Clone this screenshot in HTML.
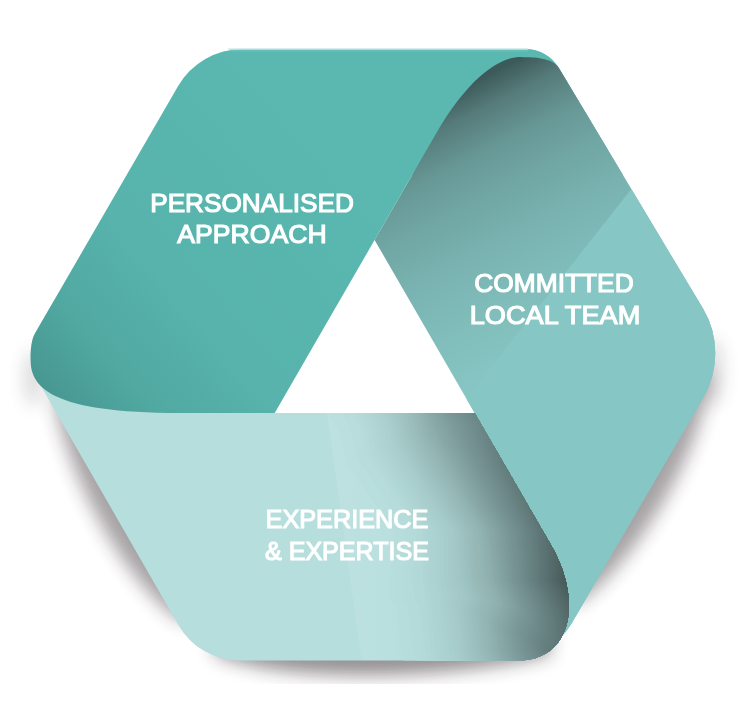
<!DOCTYPE html>
<html><head><meta charset="utf-8">
<style>
html,body{margin:0;padding:0;background:#fff;}
svg{display:block;}
text{font-family:"Liberation Sans",sans-serif;font-weight:normal;fill:#fff;stroke:#fff;stroke-width:1.2px;}
</style></head><body>
<svg width="742" height="708" viewBox="0 0 742 708">
<defs>
<filter id="blur" x="-20%" y="-20%" width="140%" height="140%"><feGaussianBlur stdDeviation="9"/></filter>
<linearGradient id="gA" gradientUnits="userSpaceOnUse" x1="330" y1="150" x2="40" y2="400">
<stop offset="0" stop-color="#5ab8b0"/><stop offset="0.55" stop-color="#57b3ac"/><stop offset="0.8" stop-color="#50a8a1"/><stop offset="1" stop-color="#46958f"/></linearGradient>
<linearGradient id="gB" gradientUnits="userSpaceOnUse" x1="523" y1="57" x2="644.5" y2="297.3">
<stop offset="0" stop-color="#3d5a5a"/><stop offset="0.1" stop-color="#557a79"/><stop offset="0.25" stop-color="#679896"/><stop offset="0.4" stop-color="#70a6a4"/><stop offset="0.6" stop-color="#7ab4b2"/><stop offset="0.8" stop-color="#80bdbb"/><stop offset="1" stop-color="#86c5c3"/></linearGradient>
<linearGradient id="gC"><stop offset="0" stop-color="#b6dedd"/></linearGradient>
<linearGradient id="gCs" gradientUnits="userSpaceOnUse" x1="330" y1="0" x2="430" y2="0"><stop offset="0" stop-color="#fff" stop-opacity="0.1"/><stop offset="1" stop-color="#fff" stop-opacity="0"/></linearGradient>
<clipPath id="cclip"><path d="M274.71,413.00 L474.68,413.00 L551.04,545.00 C583.75,601.54 571.39,660.50 518.00,660.50 L239.36,660.50 A70.00,70.00 0 0 1 178.70,625.42 L37.13,379.53 A50.00,50.00 0 0 1 37.19,329.54 L54.28,300.00 L200,413.00 Z"/></clipPath>
<clipPath id="topclip"><rect x="0" y="0" width="742" height="175"/></clipPath>
<clipPath id="bclip"><path d="M435.23,135.00 C485.67,47.64 523.50,57.30 524.00,57.30 C531.96,57.30 552.52,57.44 558.85,68.00 L702.75,308.12 A88.00,88.00 0 0 1 703.29,397.69 L571.72,623.28 A75.00,75.00 0 0 1 506.93,660.50 L500,640 L474.68,413.00 L374.60,240.00 Z"/></clipPath>
</defs>
<g filter="url(#blur)" opacity="0.42">
<path d="M54.12,397.01 C64.11,466.48 122.23,583.47 184.23,623.01 L205.03,611.04 L74.92,385.04 Z M709.59,374.98 C703.69,448.60 636.63,563.60 575.45,604.98 L554.72,592.88 L688.86,362.88 Z" fill="#2a2428"/>
</g>
<g filter="url(#blur)" opacity="0.5">
<path d="M215.00,654.50 C298.75,686.50 466.25,676.50 550.00,654.50 L550.00,630.50 L215.00,630.50 Z" fill="#2a2428"/>
</g>
<g filter="url(#blur)" opacity="0.18" fill="#2a2428">
<ellipse cx="34" cy="378" rx="9" ry="28"/>
<ellipse cx="712" cy="372" rx="10" ry="34"/>
</g>
<path d="M374.60,240.00 L274.71,413.00 L474.68,413.00 Z" fill="#fff"/>
<path d="M435.23,135.00 C485.67,47.64 523.50,57.30 524.00,57.30 C531.96,57.30 552.52,57.44 558.85,68.00 L702.75,308.12 A88.00,88.00 0 0 1 703.29,397.69 L571.72,623.28 A75.00,75.00 0 0 1 506.93,660.50 L500,640 L474.68,413.00 L374.60,240.00 Z" fill="url(#gB)"/>
<path d="M629.6,191.2 L400,483 L400,700 L760,700 L760,100 Z" fill="#86c6c4" clip-path="url(#bclip)"/>
<path d="M274.71,413.00 L474.68,413.00 L551.04,545.00 C583.75,601.54 571.39,660.50 518.00,660.50 L239.36,660.50 A70.00,70.00 0 0 1 178.70,625.42 L37.13,379.53 A50.00,50.00 0 0 1 37.19,329.54 L54.28,300.00 L200,413.00 Z" fill="url(#gC)"/>
<g clip-path="url(#cclip)" fill="#0a1414" fill-rule="evenodd"><path d="M619.8,680.2 L450.8,680.2 L407.5,679.8 L405.7,670.2 L400.8,650.8 L396.8,607.8 L389.9,600.2 L389.5,586.8 L389.8,577.8 L393.7,530.2 L348.3,465.8 L338.1,430.2 L329.0,413.2 L327.4,405.2 L375.2,404.8 L619.8,404.8 L620.2,405.2 L620.2,580.2 L620.2,679.8 L619.8,680.2Z" fill="#b4dcdb"/><path d="M619.8,680.2 L421.1,679.8 L419.3,670.2 L413.3,650.8 L407.7,605.8 L402.9,600.2 L402.2,595.8 L400.8,579.8 L405.3,530.2 L358.6,460.8 L351.0,430.2 L342.6,413.2 L341.0,405.2 L396.2,404.8 L619.8,404.8 L620.2,405.2 L620.2,580.2 L620.2,679.8 L619.8,680.2Z" fill="#b3dad9"/><path d="M619.8,680.2 L432.7,679.8 L430.8,670.2 L425.9,651.2 L418.5,603.2 L415.6,600.2 L412.3,581.8 L412.4,575.2 L416.8,530.2 L390.8,489.8 L368.1,456.2 L361.2,430.2 L353.1,413.2 L351.6,405.2 L469.8,404.8 L619.8,404.8 L620.2,405.2 L620.2,679.8 L619.8,680.2Z" fill="#b1d8d7"/><path d="M619.8,680.2 L437.7,679.8 L435.8,670.2 L430.4,650.8 L427.0,601.8 L425.9,599.8 L423.1,580.8 L422.5,530.2 L372.0,454.2 L366.0,430.2 L358.2,413.2 L356.6,405.2 L469.8,404.8 L619.8,404.8 L620.2,405.2 L620.2,679.8 L619.8,680.2Z" fill="#afd6d5"/><path d="M619.8,680.2 L442.8,679.8 L440.9,670.2 L435.1,650.8 L431.0,600.8 L428.9,590.2 L427.2,578.8 L426.9,530.2 L398.7,487.8 L375.9,452.2 L370.8,430.2 L363.3,413.2 L361.7,405.2 L469.8,404.8 L619.8,404.8 L620.2,405.2 L620.2,679.8 L619.8,680.2Z" fill="#add4d3"/><path d="M619.8,680.2 L447.8,679.8 L445.9,670.2 L439.7,650.8 L435.1,600.2 L435.5,599.2 L431.5,581.2 L431.1,530.2 L379.8,450.2 L375.6,430.2 L368.3,413.2 L366.8,405.2 L469.8,404.8 L619.8,404.8 L620.2,405.2 L620.2,679.8 L619.8,680.2Z" fill="#acd2d1"/><path d="M619.8,680.2 L452.9,679.8 L451.0,670.2 L444.4,650.8 L439.2,600.2 L440.1,598.2 L435.5,579.2 L435.5,530.2 L384.9,450.2 L383.8,447.8 L380.4,430.2 L373.4,413.2 L371.8,405.2 L469.8,404.8 L619.8,404.8 L620.2,405.2 L620.2,679.8 L619.8,680.2Z" fill="#aad0cf"/><path d="M619.8,680.2 L457.9,679.8 L456.0,670.2 L449.0,650.8 L443.3,600.2 L444.4,597.2 L439.7,580.2 L439.9,530.2 L389.5,449.2 L387.9,445.8 L385.2,430.2 L383.6,425.2 L378.5,413.2 L376.9,405.2 L469.8,404.8 L619.8,404.8 L620.2,405.2 L620.2,679.8 L619.8,680.2Z" fill="#a8cecd"/><path d="M619.8,680.2 L463.0,679.8 L461.1,670.2 L453.7,650.8 L447.3,600.2 L449.2,597.2 L444.1,580.2 L444.1,530.2 L420.7,492.2 L393.7,447.2 L392.1,443.8 L389.8,430.2 L383.2,413.2 L381.6,405.2 L469.8,404.9 L619.8,404.9 L620.1,405.2 L620.2,679.8 L619.8,680.2Z" fill="#a7cccb"/><path d="M619.8,680.1 L466.5,679.8 L464.6,670.2 L458.3,650.8 L451.5,600.8 L453.6,598.2 L453.8,597.2 L448.2,580.2 L448.5,530.2 L423.2,488.2 L396.8,445.8 L395.1,442.2 L392.8,430.2 L386.3,413.2 L384.8,405.2 L469.8,404.9 L619.8,404.9 L620.1,405.2 L620.1,679.8 L619.8,680.1Z" fill="#a5cac9"/><path d="M619.8,680.1 L469.7,679.8 L467.8,670.2 L461.2,650.8 L459.2,626.6 L455.9,602.8 L456.7,600.2 L458.7,597.8 L452.4,580.2 L452.8,539.8 L452.3,530.2 L430.3,495.2 L399.3,444.2 L397.8,441.2 L395.8,430.2 L394.3,425.2 L389.5,413.2 L388.0,405.2 L469.8,404.9 L619.8,404.9 L620.1,405.2 L620.1,679.8 L619.8,680.1Z" fill="#a3c8c7"/><path d="M619.8,680.1 L472.8,679.8 L471.0,670.2 L464.1,650.2 L460.3,605.2 L461.9,600.2 L463.4,598.2 L456.5,579.8 L456.8,557.8 L454.9,530.2 L425.3,482.2 L401.9,442.8 L400.4,439.8 L398.8,430.2 L397.4,425.2 L392.7,413.2 L391.1,405.2 L469.8,404.9 L619.8,404.9 L620.1,405.2 L620.1,679.8 L619.8,680.1Z" fill="#a1c6c5"/><path d="M619.8,680.1 L476.0,679.8 L474.1,670.2 L467.0,650.2 L463.1,606.8 L465.6,600.2 L467.1,598.8 L463.3,586.8 L460.9,580.8 L457.7,530.2 L424.2,475.2 L404.7,441.8 L403.1,438.2 L401.8,430.2 L400.5,425.2 L395.9,413.2 L394.3,405.2 L469.8,404.9 L619.8,404.9 L620.1,405.2 L620.1,679.8 L619.8,680.1Z" fill="#a0c4c3"/><path d="M619.8,680.1 L479.2,679.8 L477.3,670.2 L469.9,650.2 L465.8,607.8 L468.8,600.2 L469.9,598.8 L463.7,580.2 L460.3,530.2 L426.4,473.8 L407.2,440.2 L405.9,437.2 L404.9,430.2 L403.6,425.2 L399.1,413.2 L397.5,405.2 L469.8,404.9 L619.8,404.9 L620.1,405.2 L620.1,679.8 L619.8,680.1Z" fill="#9ec2c1"/><path d="M619.8,680.1 L482.3,679.8 L480.5,670.2 L472.8,650.2 L468.5,609.2 L472.0,600.2 L472.9,599.2 L466.1,579.2 L463.0,530.2 L428.9,472.8 L416.5,451.2 L409.9,438.8 L408.6,435.8 L406.6,425.2 L402.3,413.2 L400.7,405.2 L469.8,404.9 L619.8,404.9 L620.1,405.2 L620.1,679.8 L619.8,680.1Z" fill="#9cc0bf"/><path d="M619.8,680.1 L485.5,679.8 L483.6,670.2 L475.8,650.2 L471.3,610.8 L476.0,599.2 L469.0,580.2 L465.8,530.2 L431.5,471.8 L419.2,450.2 L412.8,437.8 L411.4,434.2 L409.7,425.2 L405.4,413.2 L403.9,405.2 L469.8,404.9 L619.8,404.9 L620.1,405.2 L620.1,679.8 L619.8,680.1Z" fill="#9abebd"/><path d="M619.8,680.1 L488.7,679.8 L486.8,670.2 L478.7,650.2 L474.1,612.2 L478.8,599.2 L471.5,580.2 L468.5,530.2 L433.7,470.2 L421.8,448.8 L415.5,436.2 L414.2,432.8 L412.6,425.2 L408.4,413.2 L406.8,405.2 L469.8,404.9 L619.8,404.9 L620.1,405.2 L620.1,679.8 L619.8,680.1Z" fill="#99bcbb"/><path d="M619.8,680.1 L491.4,679.8 L489.5,670.2 L481.6,650.2 L476.9,613.2 L481.7,599.8 L477.6,588.2 L475.1,582.8 L474.0,578.8 L471.3,530.2 L443.0,481.2 L417.8,435.2 L416.2,431.8 L414.8,425.2 L410.7,413.2 L409.1,405.2 L620.0,405.2 L620.1,679.8 L619.8,680.1Z" fill="#97bab9"/><path d="M619.8,680.0 L494.0,679.8 L491.8,670.2 L484.6,650.8 L480.7,622.8 L479.7,614.8 L484.7,600.2 L483.3,595.8 L476.8,580.2 L474.5,544.2 L474.0,530.2 L429.5,452.8 L419.8,434.2 L418.3,430.8 L417.1,425.2 L413.0,413.2 L411.4,405.2 L620.0,405.2 L619.8,680.0Z" fill="#95b8b7"/><path d="M619.8,680.0 L496.7,679.8 L495.7,678.2 L494.1,670.2 L486.6,650.2 L485.7,637.8 L482.6,616.2 L487.8,601.2 L485.7,594.8 L479.4,580.2 L476.7,530.2 L440.1,467.2 L424.8,439.2 L420.3,429.8 L419.3,425.2 L415.3,413.2 L413.7,405.2 L620.0,405.2 L619.8,680.0Z" fill="#94b6b5"/><path d="M619.8,680.0 L499.6,679.8 L498.9,678.8 L497.9,677.2 L496.5,670.2 L488.7,650.2 L486.8,627.1 L485.4,617.8 L491.0,601.2 L489.8,599.4 L488.3,594.2 L486.6,591.2 L481.9,579.2 L479.8,538.8 L478.7,530.2 L441.8,466.2 L426.8,438.2 L422.3,428.8 L421.6,425.2 L417.6,413.2 L416.1,405.2 L620.0,405.2 L619.8,680.0Z" fill="#92b4b3"/><path d="M619.8,680.0 L502.5,679.8 L501.0,677.8 L500.0,676.2 L498.8,670.2 L490.9,650.2 L488.1,618.8 L494.1,601.8 L492.1,598.2 L490.2,592.2 L489.0,590.2 L484.8,580.2 L483.1,550.2 L480.8,530.2 L462.7,499.2 L435.0,449.8 L424.3,427.8 L419.9,413.2 L418.4,405.2 L620.0,405.2 L619.8,680.0Z" fill="#90b2b1"/><path d="M619.8,680.0 L505.4,679.8 L503.1,676.8 L502.0,674.8 L501.1,670.2 L493.0,650.2 L490.1,619.8 L497.1,602.2 L494.5,597.2 L492.5,591.2 L487.3,580.2 L486.2,558.8 L482.7,530.2 L464.3,498.2 L436.9,448.8 L426.3,426.8 L422.3,413.2 L420.7,405.2 L620.0,405.2 L619.8,680.0Z" fill="#8eb0af"/><path d="M619.8,680.0 L508.3,679.8 L505.3,675.8 L504.1,673.8 L503.4,670.2 L495.1,650.2 L492.2,620.8 L499.5,602.2 L498.1,600.2 L494.9,590.8 L489.9,580.2 L489.4,569.2 L484.6,530.2 L457.3,481.8 L438.8,447.8 L428.4,425.8 L424.6,413.2 L423.0,405.2 L620.0,405.2 L619.8,680.0Z" fill="#8daead"/><path d="M619.8,680.0 L511.2,679.8 L507.4,674.8 L506.2,672.9 L505.7,670.2 L497.2,650.2 L494.2,622.2 L501.6,602.8 L500.0,600.2 L496.4,589.2 L492.6,580.2 L486.7,530.2 L467.7,496.8 L440.8,446.8 L434.1,431.8 L430.4,424.8 L426.9,413.2 L425.3,405.2 L620.0,405.2 L619.8,680.0Z" fill="#8bacab"/><path d="M619.8,680.0 L514.0,679.8 L509.5,673.8 L508.3,671.8 L508.0,670.2 L499.3,650.2 L496.3,623.2 L503.7,603.8 L501.7,599.2 L498.0,588.2 L494.5,580.8 L488.7,530.2 L469.3,495.8 L442.8,445.8 L436.2,430.8 L432.4,423.8 L429.2,413.2 L427.6,405.2 L620.0,405.2 L619.8,680.0Z" fill="#89a9a9"/><path d="M619.8,680.0 L516.9,679.8 L511.7,672.8 L510.4,670.8 L501.5,650.2 L498.4,624.2 L505.8,604.8 L499.9,588.2 L496.1,580.2 L496.3,578.2 L490.6,530.2 L465.8,485.2 L447.8,451.2 L438.3,429.8 L434.3,422.8 L431.5,413.2 L429.9,405.2 L619.9,405.2 L619.8,680.0Z" fill="#88a7a7"/><path d="M619.8,679.9 L519.8,679.8 L512.4,669.8 L503.6,650.2 L500.5,625.2 L508.0,605.8 L502.6,590.2 L497.9,579.8 L498.0,577.2 L492.6,530.2 L472.8,494.2 L449.7,450.2 L440.3,428.8 L436.3,421.8 L433.8,413.2 L432.3,405.2 L619.9,405.2 L619.8,679.9Z" fill="#86a5a5"/><path d="M619.8,679.9 L522.7,679.8 L514.2,668.8 L505.7,650.2 L502.6,626.2 L508.9,608.8 L509.9,607.2 L510.0,605.8 L506.4,595.2 L503.1,586.8 L501.4,583.8 L499.7,578.8 L499.8,576.2 L494.5,530.2 L474.4,493.2 L451.6,449.2 L442.7,428.2 L438.3,420.8 L436.1,413.2 L434.6,405.2 L619.9,405.2 L619.8,679.9Z" fill="#84a3a3"/><path d="M619.8,679.9 L525.6,679.8 L518.5,670.2 L516.0,667.8 L507.8,650.2 L504.7,627.2 L510.8,610.3 L511.8,608.9 L512.1,606.8 L507.8,593.8 L502.0,580.2 L496.6,530.2 L476.1,492.2 L454.7,450.8 L444.8,427.2 L440.3,419.8 L436.9,405.2 L619.9,405.2 L619.8,679.9Z" fill="#82a1a1"/><path d="M619.8,679.9 L528.5,679.8 L521.3,670.2 L518.1,667.2 L510.0,650.2 L506.9,628.2 L512.4,612.2 L513.8,610.2 L514.1,607.8 L510.9,596.8 L503.7,579.8 L503.1,571.2 L498.6,530.2 L481.1,497.8 L456.8,449.9 L447.0,426.2 L442.3,418.8 L439.2,405.2 L619.9,405.2 L619.8,679.9Z" fill="#819f9f"/><path d="M619.8,679.9 L531.4,679.8 L524.2,670.2 L519.8,666.2 L512.2,650.8 L509.1,629.8 L514.2,614.0 L515.9,611.2 L516.1,607.2 L511.3,592.8 L505.6,580.2 L505.3,573.8 L500.4,530.2 L482.7,496.8 L460.5,452.8 L449.2,425.2 L444.3,417.8 L441.5,405.2 L619.9,405.2 L619.8,679.9Z" fill="#7f9d9d"/><path d="M619.8,679.9 L534.3,679.8 L527.1,670.2 L521.5,665.2 L514.3,650.8 L511.3,630.8 L516.1,615.8 L517.8,613.2 L518.2,607.8 L514.1,595.2 L509.3,583.8 L507.4,580.8 L507.1,572.8 L502.2,529.8 L481.3,489.8 L462.4,451.8 L451.8,425.2 L446.4,416.8 L443.9,405.2 L619.9,405.2 L619.8,679.9Z" fill="#7d9b9b"/><path d="M619.8,679.9 L537.2,679.8 L530.1,670.2 L523.3,664.2 L516.5,650.8 L513.5,631.8 L517.8,617.8 L519.6,615.2 L520.3,608.2 L515.7,594.2 L510.4,582.2 L509.0,580.2 L508.9,571.8 L504.4,530.2 L489.3,501.2 L466.0,454.2 L454.7,425.8 L448.5,415.8 L446.2,405.2 L619.9,405.2 L619.8,679.9Z" fill="#7c9999"/><path d="M619.8,679.9 L540.1,679.8 L533.0,670.2 L525.0,663.2 L518.6,650.8 L515.7,632.8 L519.8,619.4 L521.8,616.2 L522.3,608.8 L517.4,593.8 L510.8,579.2 L510.8,571.8 L506.4,530.2 L487.9,494.2 L467.9,453.2 L457.2,425.4 L450.5,414.8 L448.6,405.2 L619.9,405.2 L619.8,679.9Z" fill="#7a9797"/><path d="M619.8,679.9 L543.1,679.8 L535.9,670.2 L526.8,662.2 L520.7,650.8 L517.9,633.8 L521.6,621.2 L523.8,617.8 L524.5,609.8 L518.9,592.8 L513.0,580.2 L512.2,566.8 L508.3,530.2 L486.6,487.2 L469.8,452.2 L460.3,426.2 L452.6,413.8 L450.9,405.2 L619.8,405.2 L619.8,679.9Z" fill="#789595"/><path d="M619.8,679.8 L546.1,679.8 L538.9,670.2 L528.7,661.8 L522.9,650.8 L520.2,635.2 L523.5,623.2 L526.0,618.8 L526.5,610.2 L522.3,596.8 L514.9,580.2 L514.4,569.2 L510.3,530.2 L488.3,486.2 L471.8,451.2 L462.6,425.2 L454.8,412.8 L453.3,405.2 L619.8,405.2 L619.8,679.8Z" fill="#769393"/><path d="M619.8,679.8 L549.0,679.8 L541.8,670.2 L530.4,660.8 L524.9,650.2 L522.4,636.2 L525.4,625.2 L528.0,620.8 L528.6,610.8 L524.0,596.2 L516.7,580.2 L516.2,568.2 L512.4,530.2 L493.2,491.8 L473.8,450.2 L465.2,425.2 L457.0,411.8 L455.6,405.2 L619.8,405.2 L619.8,679.8Z" fill="#759191"/><path d="M619.8,679.8 L552.0,679.8 L544.7,670.2 L532.1,659.8 L527.0,650.2 L524.7,637.2 L527.3,627.2 L530.2,621.8 L530.7,612.2 L530.3,609.8 L525.5,595.2 L521.8,586.8 L518.3,580.2 L518.0,567.2 L514.4,530.2 L494.9,490.8 L478.7,455.8 L475.9,449.2 L468.4,426.8 L466.8,423.2 L459.2,410.8 L458.0,405.2 L619.8,405.2 L619.8,679.8Z" fill="#738f8f"/><path d="M619.8,679.8 L554.9,679.8 L547.7,670.2 L533.8,658.8 L529.2,650.2 L527.1,638.2 L529.3,629.2 L531.4,625.8 L532.2,623.2 L532.8,613.2 L532.4,610.2 L527.6,595.8 L520.1,579.8 L519.9,567.2 L516.3,530.2 L496.7,489.8 L480.7,454.8 L478.0,448.2 L470.8,425.6 L462.9,412.8 L461.1,409.2 L460.3,405.2 L619.8,405.2 L619.8,679.8Z" fill="#718d8d"/><path d="M619.8,679.8 L557.8,679.8 L550.6,670.2 L537.5,659.8 L535.2,657.4 L531.4,650.2 L529.4,639.8 L531.4,631.2 L534.2,625.8 L534.8,621.8 L534.9,614.2 L534.3,610.2 L529.2,595.2 L522.0,580.2 L521.7,566.2 L518.2,530.2 L501.5,495.2 L482.6,453.8 L480.1,447.2 L473.3,425.2 L465.0,411.8 L463.3,408.2 L462.7,405.2 L619.8,405.2 L619.8,679.8Z" fill="#6f8b8b"/><path d="M619.8,679.8 L560.8,679.8 L553.5,670.2 L537.4,657.2 L534.2,651.7 L533.5,650.2 L531.8,640.8 L533.5,633.2 L536.5,627.2 L537.1,615.2 L536.2,610.2 L531.4,596.2 L528.0,588.2 L523.8,580.2 L523.5,565.2 L520.4,530.2 L503.2,494.2 L484.6,452.8 L481.0,442.2 L476.1,425.8 L466.9,410.2 L465.4,407.2 L465.0,405.2 L619.8,405.2 L619.8,679.8Z" fill="#6e8989"/><path d="M619.8,679.8 L563.7,679.8 L556.6,670.2 L539.2,656.5 L535.8,650.8 L534.1,641.8 L535.6,635.2 L537.1,632.8 L538.8,628.2 L539.3,622.8 L539.0,613.8 L538.1,610.2 L533.5,597.8 L533.1,595.8 L525.5,580.2 L525.3,563.8 L522.4,530.2 L502.2,487.2 L486.6,451.8 L478.5,424.8 L469.1,409.2 L467.4,405.2 L619.8,405.2 L619.8,679.8Z" fill="#6c8787"/><path d="M619.8,679.8 L566.6,679.8 L559.6,670.2 L541.0,655.8 L538.0,650.8 L536.4,643.2 L537.8,637.2 L539.3,634.8 L541.0,629.8 L541.5,622.8 L541.2,614.8 L540.1,610.2 L534.6,594.8 L530.9,586.8 L527.1,580.2 L527.6,573.8 L527.2,571.2 L527.2,562.8 L524.2,529.8 L504.0,486.2 L488.6,450.8 L483.4,433.2 L482.1,427.2 L481.5,426.2 L481.8,425.3 L619.8,425.3 L619.8,679.8Z" fill="#6a8585"/><path d="M619.8,679.8 L569.6,679.8 L562.4,670.2 L542.8,655.0 L540.2,650.8 L538.8,644.2 L539.9,639.8 L541.7,636.2 L543.4,630.8 L543.8,623.8 L543.3,614.8 L542.0,610.2 L536.2,594.2 L532.4,586.2 L528.9,580.2 L529.4,573.8 L529.0,570.2 L529.0,561.8 L526.4,530.2 L505.7,485.2 L493.4,456.2 L490.7,449.8 L486.2,433.6 L619.8,433.6 L619.8,679.8Z" fill="#698383"/><path d="M619.8,670.2 L565.8,670.2 L545.8,655.3 L544.1,653.8 L542.3,650.8 L541.2,645.2 L542.1,641.8 L544.7,636.2 L545.7,631.8 L546.0,624.8 L545.4,615.8 L544.0,610.2 L537.6,593.2 L533.7,585.2 L530.7,580.2 L531.3,572.8 L530.8,569.2 L531.0,561.8 L528.4,530.2 L518.9,509.8 L503.3,474.2 L493.7,451.2 L491.2,441.9 L619.8,441.9 L619.8,670.2Z" fill="#678181"/><path d="M619.8,665.2 L561.8,665.2 L547.8,654.7 L546.1,653.2 L544.5,650.8 L543.6,646.2 L544.2,643.8 L545.8,641.2 L547.1,637.8 L548.2,630.8 L547.7,617.2 L545.9,610.2 L539.2,592.8 L532.6,580.2 L533.1,570.8 L532.7,568.2 L532.8,560.8 L530.4,530.2 L512.2,489.8 L498.4,456.8 L496.2,450.3 L619.8,450.3 L619.8,665.2Z" fill="#657f7f"/><path d="M619.8,660.2 L557.8,660.2 L547.8,652.4 L546.6,650.8 L545.9,647.8 L546.4,645.8 L549.4,639.8 L550.4,634.2 L550.6,627.2 L549.9,618.2 L547.9,610.2 L542.3,595.8 L534.4,579.8 L535.0,569.8 L534.6,567.2 L534.7,559.8 L532.4,530.2 L516.7,495.2 L503.8,463.6 L619.8,463.6 L619.8,660.2Z" fill="#637d7d"/><path d="M619.8,655.2 L554.2,655.2 L548.8,650.8 L548.5,648.2 L549.8,646.4 L551.8,641.2 L552.8,635.2 L552.9,628.2 L552.3,620.2 L549.8,610.2 L544.1,595.8 L536.3,580.2 L536.2,576.2 L536.9,568.8 L536.3,560.2 L536.6,558.8 L534.3,530.2 L521.3,500.8 L513.2,481.7 L512.5,478.8 L511.6,477.8 L511.8,476.9 L619.8,476.9 L619.8,655.2Z" fill="#627b7b"/><path d="M619.8,650.2 L551.8,650.2 L551.5,649.8 L554.3,642.8 L555.1,637.8 L555.3,633.2 L554.9,624.2 L553.9,617.8 L551.8,610.2 L544.2,591.8 L538.0,580.2 L538.6,572.2 L538.6,561.8 L536.5,530.2 L523.0,499.8 L519.6,491.2 L519.8,490.3 L619.8,490.3 L619.8,650.2Z" fill="#607978"/><path d="M619.8,645.2 L556.8,645.2 L556.6,643.2 L557.6,639.2 L557.6,630.8 L556.7,621.8 L555.1,614.8 L553.7,610.2 L546.5,592.8 L539.6,580.2 L540.4,571.2 L540.5,560.8 L538.5,530.2 L530.3,511.8 L528.4,506.2 L527.5,505.2 L527.2,503.6 L619.8,503.6 L619.8,645.2Z" fill="#5e7776"/><path d="M619.8,640.2 L560.2,640.2 L559.6,627.2 L557.0,614.8 L555.6,610.2 L549.6,595.8 L541.4,579.8 L542.5,566.2 L542.1,563.8 L542.3,555.2 L540.6,534.2 L540.7,531.2 L534.8,516.9 L619.8,516.9 L619.8,640.2Z" fill="#5d7574"/><path d="M619.8,636.0 L562.8,636.0 L561.2,623.8 L557.6,610.2 L548.7,589.8 L543.4,580.2 L544.4,565.2 L544.0,562.8 L544.1,554.2 L542.5,533.2 L542.8,530.3 L619.8,530.3 L619.8,636.0Z" fill="#5b7372"/><path d="M619.8,631.7 L564.8,631.7 L562.9,622.2 L559.5,610.2 L550.5,589.8 L545.1,580.2 L546.3,564.2 L545.8,561.8 L546.0,553.2 L544.8,534.1 L619.8,534.1 L619.8,631.7Z" fill="#597170"/><path d="M619.8,627.4 L566.2,627.4 L561.5,610.2 L555.2,595.8 L551.2,587.8 L546.9,580.2 L548.1,563.2 L547.7,560.8 L547.9,552.2 L546.9,538.8 L547.2,537.9 L619.8,537.9 L619.8,627.4Z" fill="#576f6e"/><path d="M619.8,623.1 L567.2,623.1 L567.3,622.2 L563.4,610.2 L559.1,600.2 L552.7,587.2 L548.5,580.2 L549.4,573.8 L549.3,569.8 L550.0,562.2 L549.3,544.2 L549.8,541.8 L619.8,541.8 L619.8,623.1Z" fill="#566d6c"/><path d="M619.8,618.8 L568.2,618.8 L565.6,610.8 L561.0,600.2 L554.2,586.8 L550.2,580.2 L550.8,576.8 L551.1,568.8 L551.7,565.8 L551.8,545.6 L619.8,545.6 L619.8,618.8Z" fill="#546b6a"/><path d="M619.8,614.5 L568.8,614.5 L567.8,611.2 L562.9,600.2 L555.4,585.8 L552.0,580.2 L553.6,564.8 L553.8,554.2 L553.4,551.8 L553.8,549.5 L619.8,549.5 L619.8,614.5Z" fill="#526968"/><path d="M619.8,610.2 L569.2,610.2 L562.5,595.8 L553.7,580.2 L555.0,570.2 L555.8,553.3 L619.8,553.3 L619.8,610.2Z" fill="#516766"/><path d="M619.8,606.0 L569.2,606.0 L566.5,599.8 L555.5,580.2 L556.9,569.2 L556.8,565.8 L557.8,557.2 L619.8,557.2 L619.8,606.0Z" fill="#4f6564"/><path d="M619.8,601.7 L569.2,601.7 L566.0,595.2 L557.2,580.2 L558.8,568.2 L559.2,561.0 L619.8,561.0 L619.8,601.7Z" fill="#4d6362"/><path d="M619.8,597.4 L568.8,597.4 L567.6,594.8 L558.9,580.2 L560.7,568.2 L560.8,564.9 L619.8,564.9 L619.8,597.4Z" fill="#4b6160"/><path d="M619.8,593.1 L568.2,593.1 L560.6,580.2 L562.1,571.2 L562.0,569.2 L562.2,568.7 L619.8,568.7 L619.8,593.1Z" fill="#4a5f5e"/><path d="M619.8,588.8 L567.8,588.8 L562.2,580.2 L563.2,573.8 L563.8,572.6 L619.8,572.6 L619.8,588.8Z" fill="#485d5c"/><path d="M619.8,584.5 L566.8,584.5 L564.1,580.2 L564.1,579.2 L564.9,577.2 L564.8,576.4 L619.8,576.4 L619.8,584.5Z" fill="#465b5a"/></g>
<path d="M327,413 L520,413 L520,662 L362,662 Z" fill="url(#gCs)" clip-path="url(#cclip)"/>
<path d="M34.61,334.00 C31.94,338.63 30.60,347.29 30.60,360.00 C30.60,387.40 51.70,413.00 180.00,413.00 L274.71,413.00 L374.60,240.00 L415.02,170.00 L608.00,150.00 L558.53,67.47 A38.00,38.00 0 0 0 525.94,49.00 L242.76,49.00 A75.00,75.00 0 0 0 177.85,86.44 Z" fill="url(#gA)"/>
<rect x="228" y="48.2" width="300" height="1.6" fill="#d3ecea"/>
<rect x="230" y="49.8" width="298" height="1.8" fill="#66bfb8"/>
<path d="M435.23,135.00 C485.67,47.64 523.50,57.30 524.00,57.30 C531.96,57.30 552.52,57.44 558.85,68.00 L702.75,308.12 A88.00,88.00 0 0 1 703.29,397.69 L571.72,623.28 A75.00,75.00 0 0 1 506.93,660.50 L500,640 L474.68,413.00 L374.60,240.00 Z" fill="url(#gB)" clip-path="url(#topclip)"/>
<g opacity="0.999">
<g transform="translate(252,0) scale(0.988,1) translate(-252,0)"><text x="252" y="212" font-size="26.5" text-anchor="middle">PERSONALISED</text></g>
<g transform="translate(252,0) scale(1.004,1) translate(-252,0)"><text x="252" y="243" font-size="26.5" text-anchor="middle">APPROACH</text></g>
<g transform="translate(554,0) scale(0.994,1) translate(-554,0)"><text x="554" y="292" font-size="26.5" text-anchor="middle">COMMITTED</text></g>
<g transform="translate(555,0) scale(1.025,1) translate(-555,0)"><text x="555" y="324" font-size="26.5" text-anchor="middle">LOCAL TEAM</text></g>
<g transform="translate(347,0) scale(0.954,1) translate(-347,0)"><text x="347" y="528" font-size="26.5" text-anchor="middle">EXPERIENCE</text></g>
<g transform="translate(347,0) scale(0.947,1) translate(-347,0)"><text x="347" y="560" font-size="26.5" text-anchor="middle">&amp; EXPERTISE</text></g>
</g>
</svg>
</body></html>
